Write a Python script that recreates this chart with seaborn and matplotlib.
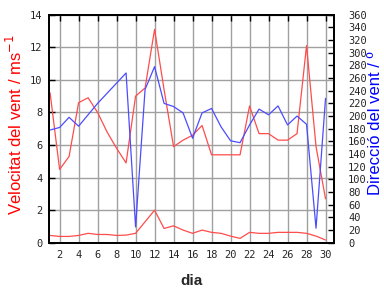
import matplotlib
matplotlib.use("Agg")
import matplotlib.pyplot as plt
import seaborn as sns
import pandas as pd

dies = list(range(1, 31))
vel_max = [9.2, 4.5, 5.3, 8.6, 8.9, 8.0, 6.8, 5.8, 4.9, 9.0,
           9.5, 13.1, 9.4, 5.9, 6.3, 6.6, 7.2, 5.4, 5.4, 5.4,
           5.4, 8.4, 6.7, 6.7, 6.3, 6.3, 6.7, 12.1, 5.9, 2.7]
vel_mitjana = [0.45, 0.39, 0.39, 0.45, 0.58, 0.51, 0.51, 0.45, 0.47, 0.58,
               1.29, 2.0, 0.88, 1.04, 0.78, 0.58, 0.78, 0.64, 0.58, 0.41,
               0.27, 0.64, 0.58, 0.58, 0.64, 0.64, 0.64, 0.58, 0.41, 0.17]
direccio = [178, 182, 198, 184, 202, 220, 236, 252, 268, 25,
            242, 278, 220, 215, 205, 165, 205, 212, 183, 161,
            158, 186, 211, 202, 216, 186, 200, 187, 23, 228]
x_ticks = list(range(2, 31, 2))
y_ticks_vel = list(range(0, 15, 2))
y_ticks_dir = list(range(0, 361, 20))

sns.set_style("white")
plt.rcParams["font.family"] = ["DejaVu Sans"]

RED_LINE = "#ff4c4c"
BLUE_LINE = "#4c4cff"

df = pd.DataFrame({"dia": dies, "vmax": vel_max, "vmean": vel_mitjana, "dir": direccio})

fig = plt.figure(figsize=(3.84, 2.88), dpi=100)
fig.patch.set_facecolor("white")
ax = fig.add_axes([0.128, 0.157, 0.742, 0.792])

sns.lineplot(data=df, x="dia", y="vmax", ax=ax, color=RED_LINE, lw=0.9)
sns.lineplot(data=df, x="dia", y="vmean", ax=ax, color=RED_LINE, lw=0.9)

ax.set_xlim(0.9, 30.9)
ax.set_ylim(0, 14)
ax.set_xticks(x_ticks)
ax.set_yticks(y_ticks_vel)
ax.grid(True, color="#a0a0a0", lw=1.0)
ax.set_axisbelow(True)
ax.tick_params(axis="both", direction="in", length=4, width=1, color="black",
               labelsize=7.5, pad=5)
ax.tick_params(axis="x", top=True)
for lab in ax.get_xticklabels() + ax.get_yticklabels():
    lab.set_family("DejaVu Sans Mono")
for sp in ax.spines.values():
    sp.set_color("black")
    sp.set_linewidth(1.3)

ax.set_xlabel("dia", fontsize=11, fontweight="bold", family="Liberation Sans")
ax.xaxis.set_label_coords(0.5, -0.135)
ax.set_ylabel("Velocitat del vent / ms$^{-1}$", fontsize=12, color="#ff0000",
              family="Liberation Sans")
ax.yaxis.set_label_coords(-0.086, 0.52)

ax2 = ax.twinx()
sns.lineplot(data=df, x="dia", y="dir", ax=ax2, color=BLUE_LINE, lw=0.9)
ax2.set_ylim(0, 360)
ax2.set_yticks(y_ticks_dir)
ax2.grid(False)
ax2.tick_params(axis="y", direction="in", length=4, width=1, color="black",
                labelsize=7.5, pad=10)
for lab in ax2.get_yticklabels():
    lab.set_family("DejaVu Sans Mono")
for sp in ax2.spines.values():
    sp.set_color("black")
    sp.set_linewidth(1.3)
ax2.set_ylabel("Direcció del vent / º", fontsize=12, color="#0000ff",
               family="Liberation Sans",
               bbox=dict(facecolor="white", edgecolor="none", pad=0))
ax2.yaxis.set_label_coords(1.12, 0.525)

fig.savefig("out.png", dpi=100, facecolor="white")
